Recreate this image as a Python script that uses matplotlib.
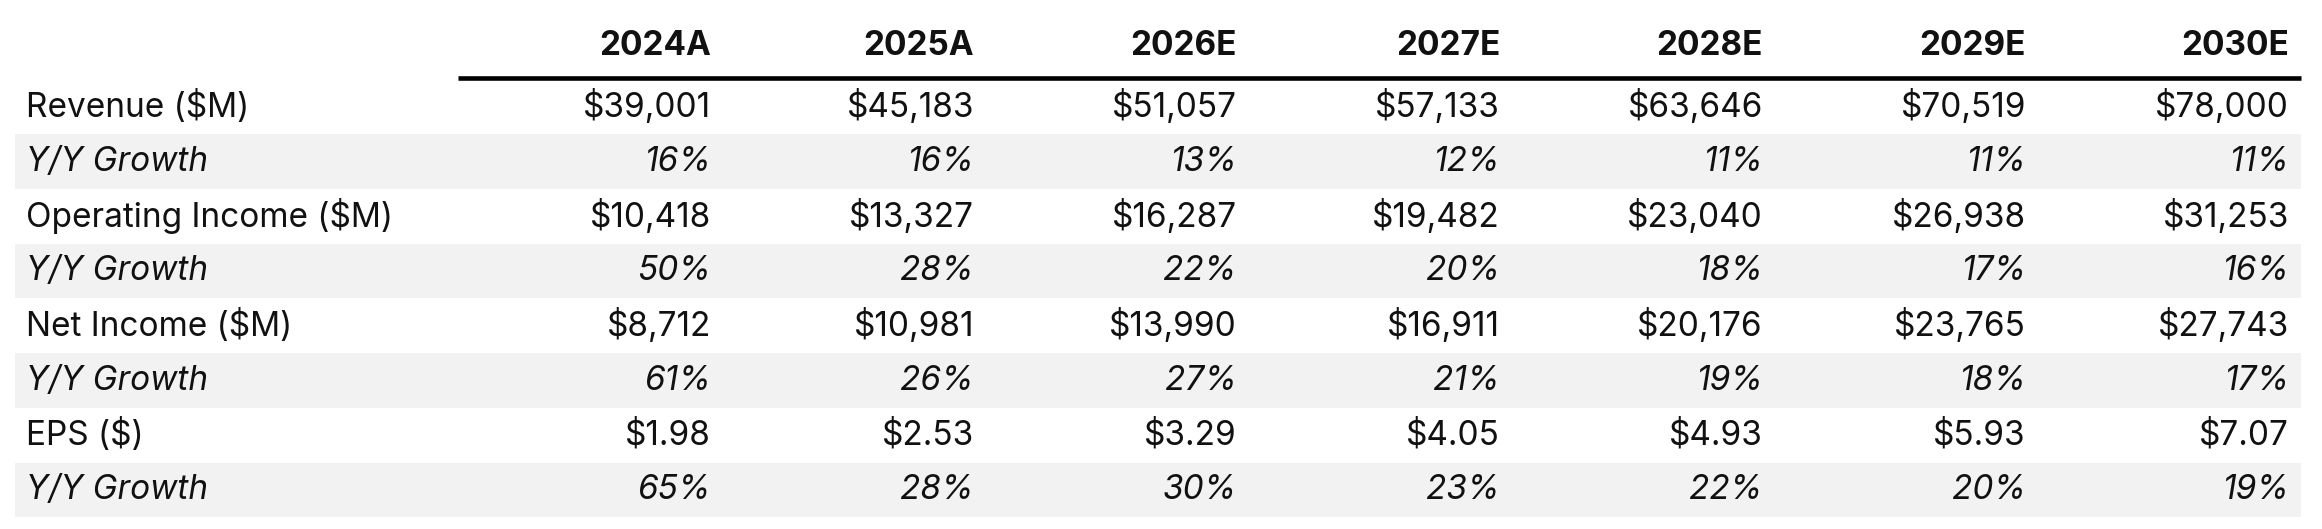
import matplotlib
matplotlib.use("Agg")
import matplotlib.pyplot as plt
from matplotlib.patches import Rectangle

# table content
years = ["2024A", "2025A", "2026E", "2027E", "2028E", "2029E", "2030E"]
row_labels = ["Revenue ($M)", "Y/Y Growth", "Operating Income ($M)", "Y/Y Growth",
              "Net Income ($M)", "Y/Y Growth", "EPS ($)", "Y/Y Growth"]
revenue = [39001, 45183, 51057, 57133, 63646, 70519, 78000]
revenue_growth = [16, 16, 13, 12, 11, 11, 11]
op_income = [10418, 13327, 16287, 19482, 23040, 26938, 31253]
op_income_growth = [50, 28, 22, 20, 18, 17, 16]
net_income = [8712, 10981, 13990, 16911, 20176, 23765, 27743]
net_income_growth = [61, 26, 27, 21, 19, 18, 17]
eps = [1.98, 2.53, 3.29, 4.05, 4.93, 5.93, 7.07]
eps_growth = [65, 28, 30, 23, 22, 20, 19]

rows = [
    ["${:,}".format(v) for v in revenue],
    ["{}%".format(v) for v in revenue_growth],
    ["${:,}".format(v) for v in op_income],
    ["{}%".format(v) for v in op_income_growth],
    ["${:,}".format(v) for v in net_income],
    ["{}%".format(v) for v in net_income_growth],
    ["${:.2f}".format(v) for v in eps],
    ["{}%".format(v) for v in eps_growth],
]

W, H = 2322, 529
fig = plt.figure(figsize=(W / 100, H / 100), dpi=100)
ax = fig.add_axes([0, 0, 1, 1])
ax.set_axis_off()

# layout (pixel-like units horizontally, row units vertically)
row_h = 54.7
first_center = 107
ax.set_xlim(0, W)
ax.set_ylim((H - first_center) / row_h, -first_center / row_h)

col_right0 = 711
col_step = 263
label_x = 26
band_x0, band_x1 = 15, 2301
line_x0 = 458
fs = 24
font = "Inter"
txt_color = "#111111"

# shaded growth rows
for i, lab in enumerate(row_labels):
    if i % 2 == 1:
        ax.add_patch(Rectangle((band_x0, i - 0.5), band_x1 - band_x0, 1.0,
                               facecolor="#f2f2f2", edgecolor="none", zorder=0))

# header
header_y = (46 - first_center) / row_h
for c, yr in enumerate(years):
    ax.text(col_right0 + c * col_step, header_y, yr, ha="right", va="center",
            fontsize=fs, fontweight="bold", family=font, color=txt_color)
ax.plot([line_x0, band_x1], [-0.5 - 1.5 / row_h, -0.5 - 1.5 / row_h],
        color="black", linewidth=3.3, solid_capstyle="butt")

# body
for i, lab in enumerate(row_labels):
    style = "italic" if i % 2 == 1 else "normal"
    ax.text(label_x, i, lab, ha="left", va="center", fontsize=fs,
            family=font, style=style, color=txt_color)
    for c, val in enumerate(rows[i]):
        ax.text(col_right0 + c * col_step, i, val, ha="right", va="center",
                fontsize=fs, family=font, style=style, color=txt_color)

fig.savefig("out.png", dpi=100, facecolor="white")
